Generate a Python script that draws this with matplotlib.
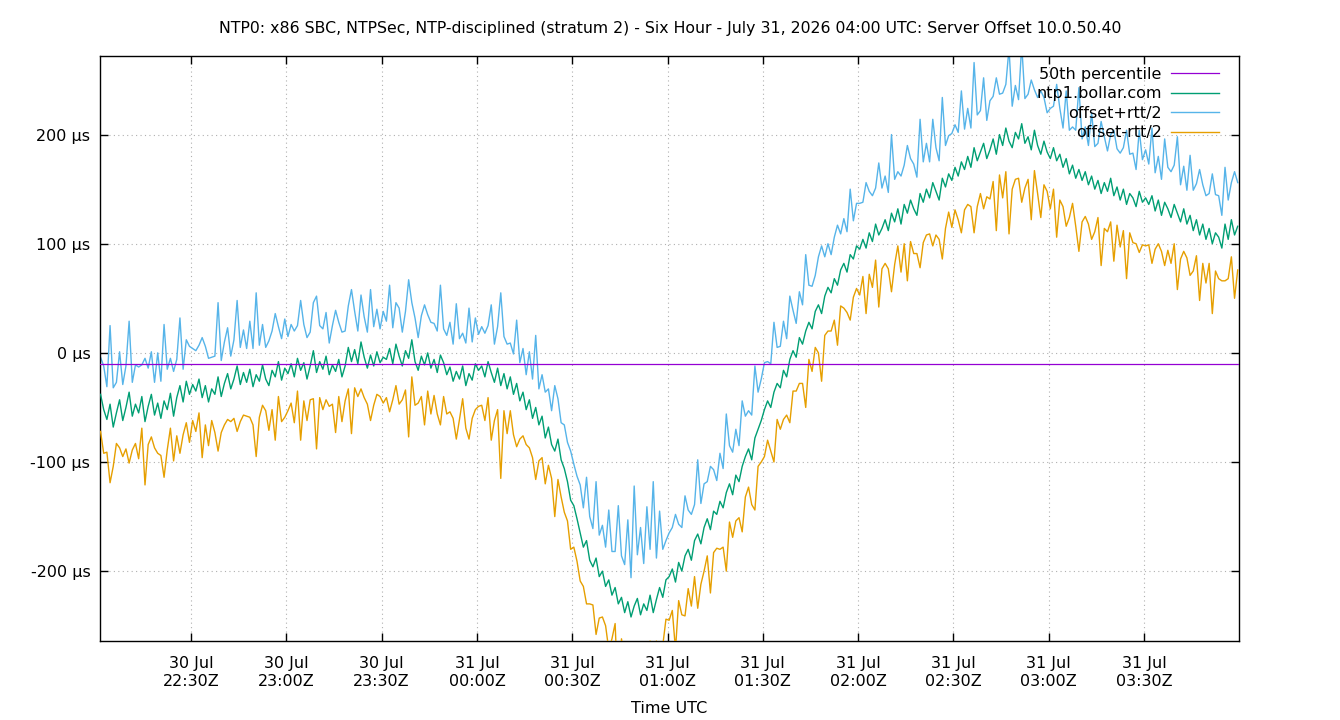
import numpy as np
import matplotlib
matplotlib.use("Agg")
import matplotlib.pyplot as plt
import matplotlib.dates as mdates
from matplotlib.ticker import FuncFormatter, MultipleLocator

title = ("NTP0: x86 SBC, NTPSec, NTP-disciplined (stratum 2) - Six Hour - "
         "July 31, 2026 04:00 UTC: Server Offset 10.0.50.40")

# one sample per minute, first one at 22:01:30 on 30 Jul
t_start = np.datetime64("2026-07-30T22:01:30")
x_range = (np.datetime64("2026-07-30T22:01:20"), np.datetime64("2026-07-31T03:59:54"))

# ntp1.bollar.com offset, µs (rows of 30 min)
offset = [
    -38, -52, -61, -47, -68, -55, -43, -62, -50, -36, -58, -47, -55, -40, -63,
    -49, -38, -57, -46, -60, -44, -52, -37, -58, -41, -30, -45, -26, -38, -29,
    -35, -24, -41, -30, -45, -33, -38, -22, -40, -28, -19, -33, -24, -12, -29,
    -18, -27, -15, -31, -20, -26, -11, -24, -30, -16, -22, -8, -25, -14, -19,
    -10, -22, -5, -16, -9, -24, -12, 2, -18, -8, -15, -3, -20, -11, -17,
    -6, -22, -12, 5, -8, 3, -10, 10, -4, -14, -2, -12, 1, -9, -4,
    -6, 4, -10, 8, -3, -12, 2, -5, 12, -8, -16, -3, -11, 0, -14,
    -6, -18, -2, -9, -20, -13, -26, -17, -24, -12, -30, -19, -25, -10, -16,
    -12, -22, -8, -18, -27, -14, -30, -19, -33, -22, -38, -28, -44, -36, -52,
    -43, -60, -50, -66, -58, -78, -68, -84, -90, -79, -98, -106, -118, -135, -140,
    -152, -165, -178, -172, -190, -196, -188, -205, -200, -214, -208, -222, -215, -230, -224,
    -238, -228, -242, -232, -225, -240, -230, -236, -222, -238, -226, -215, -224, -208, -205,
    -198, -210, -192, -200, -186, -180, -190, -172, -166, -175, -160, -152, -162, -145, -148,
    -136, -142, -128, -120, -130, -112, -118, -104, -95, -88, -98, -78, -70, -62, -52,
    -44, -50, -36, -28, -32, -16, -22, -6, 2, -4, 14, 8, 20, 28, 22,
    38, 44, 36, 52, 60, 55, 68, 62, 76, 82, 74, 90, 86, 98, 95,
    104, 96, 110, 102, 118, 108, 114, 122, 112, 128, 120, 132, 118, 136, 128,
    140, 132, 126, 146, 138, 150, 142, 156, 148, 140, 160, 152, 164, 158, 170,
    162, 175, 168, 180, 170, 188, 176, 184, 192, 178, 186, 196, 182, 200, 190,
    206, 194, 188, 202, 196, 210, 192, 198, 186, 204, 190, 182, 194, 184, 178,
    188, 176, 182, 170, 178, 164, 172, 160, 168, 158, 166, 154, 162, 150, 158,
    146, 156, 148, 160, 144, 152, 140, 150, 136, 146, 142, 134, 148, 138, 142,
    136, 144, 130, 140, 126, 138, 132, 124, 136, 128, 120, 132, 118, 126, 112,
    122, 108, 118, 104, 114, 100, 110, 106, 96, 118, 104, 122, 108, 116,
]

# half round trip time, µs
half_rtt = [
    34, 40, 30, 72, 36, 28, 44, 33, 38, 65, 31, 36, 42, 29, 58,
    35, 39, 30, 46, 34, 70, 37, 32, 41, 35, 62, 30, 38, 44, 33,
    37, 31, 55, 36, 40, 29, 35, 68, 33, 38, 42, 30, 36, 60, 34,
    39, 31, 44, 35, 75, 33, 37, 29, 41, 36, 58, 32, 38, 45, 34,
    36, 42, 30, 64, 35, 38, 31, 44, 70, 33, 37, 40, 29, 36, 56,
    34, 41, 32, 38, 66, 35, 30, 43, 37, 33, 60, 36, 39, 31, 42,
    35, 58, 33, 38, 44, 31, 36, 72, 34, 40, 30, 37, 55, 35, 42,
    33, 38, 64, 31, 36, 41, 34, 62, 37, 30, 39, 60, 35, 42, 33,
    36, 40, 33, 62, 35, 38, 85, 34, 41, 31, 37, 58, 35, 40, 32,
    44, 36, 66, 33, 38, 42, 35, 31, 60, 37, 34, 40, 36, 45, 38,
    39, 44, 36, 58, 40, 35, 70, 38, 42, 36, 64, 40, 33, 90, 38,
    44, 75, 36, 110, 40, 80, 37, 95, 42, 120, 38, 70, 44, 36, 40,
    38, 62, 35, 40, 55, 36, 42, 33, 68, 37, 40, 34, 58, 38, 31,
    44, 36, 72, 35, 39, 42, 33, 60, 37, 35, 41, 66, 34, 38, 43,
    36, 40, 64, 33, 38, 45, 35, 58, 37, 31, 42, 36, 70, 34, 39,
    33, 44, 62, 36, 40, 35, 38, 55, 33, 41, 37, 60, 35, 39, 42,
    34, 60, 38, 42, 33, 66, 37, 40, 35, 72, 39, 34, 44, 36, 62,
    38, 41, 35, 68, 37, 42, 33, 58, 40, 36, 74, 38, 35, 43, 39,
    40, 65, 37, 44, 36, 78, 42, 38, 60, 35, 45, 39, 70, 37, 48,
    40, 85, 38, 43, 36, 72, 41, 39, 64, 37, 44, 58, 40, 36, 46,
    38, 70, 42, 36, 62, 40, 35, 44, 75, 38, 41, 36, 58, 39, 34,
    66, 42, 37, 40, 60, 35, 43, 38, 68, 36, 41, 34, 56, 39, 44,
    37, 62, 35, 40, 33, 58, 38, 42, 36, 70, 34, 39, 31, 55, 37,
    33, 60, 36, 40, 32, 64, 35, 38, 30, 52, 36, 34, 58, 40,
]

p50 = -10  # 50th percentile, µs
y_range = (-264, 272)

offset = np.array(offset, dtype=float)
half_rtt = np.array(half_rtt, dtype=float)
times = t_start + np.arange(len(offset)) * np.timedelta64(1, "m")
times = times.astype("datetime64[s]").astype(object)

plt.rcParams["font.family"] = "DejaVu Sans"
plt.rcParams["font.size"] = 11.5

fig = plt.figure(figsize=(13.4, 7.2), dpi=100)
ax = fig.add_axes([100 / 1340, 1 - 641 / 720, 1139 / 1340, 585 / 720])

ax.plot(times, offset + half_rtt, color="#56b4e9", lw=1.0, label="offset+rtt/2", zorder=2)
ax.plot(times, offset, color="#009e73", lw=1.0, label="ntp1.bollar.com", zorder=3)
ax.plot(times, offset - half_rtt, color="#e69f00", lw=1.0, label="offset-rtt/2", zorder=4)
ax.axhline(p50, color="#9400d3", lw=0.9, label="50th percentile", zorder=5)

ax.set_xlim(*[x.astype(object) for x in x_range])
ax.set_ylim(*y_range)

ax.xaxis.set_major_locator(mdates.MinuteLocator(byminute=[0, 30]))
ax.xaxis.set_major_formatter(mdates.DateFormatter("%d %b\n%H:%MZ"))
ax.yaxis.set_major_locator(MultipleLocator(100))
ax.yaxis.set_major_formatter(FuncFormatter(lambda v, pos: f"{v:.0f} µs".replace("−", "-")))
ax.tick_params(direction="in", length=6, width=1, top=True, right=True)
ax.tick_params(axis="x", pad=11)
ax.tick_params(axis="y", pad=7)
ax.grid(True, color="#b0b0b0", linestyle=(0, (1, 3)), lw=0.8)
for s in ax.spines.values():
    s.set_linewidth(1)

ax.set_xlabel("Time UTC", labelpad=9)
fig.suptitle(title, y=1 - 28 / 720, va="center", fontsize=11.35)

h, l = ax.get_legend_handles_labels()
order = [3, 1, 0, 2]
ax.legend([h[i] for i in order], [l[i] for i in order], loc="upper right",
          bbox_to_anchor=(1 - 7 / 1139, 1 + 2 / 585),
          frameon=False, markerfirst=False, handlelength=3.0, handletextpad=0.6,
          labelspacing=0.28, borderaxespad=0.4, fontsize=11.5)

fig.savefig("out.png", dpi=100)
